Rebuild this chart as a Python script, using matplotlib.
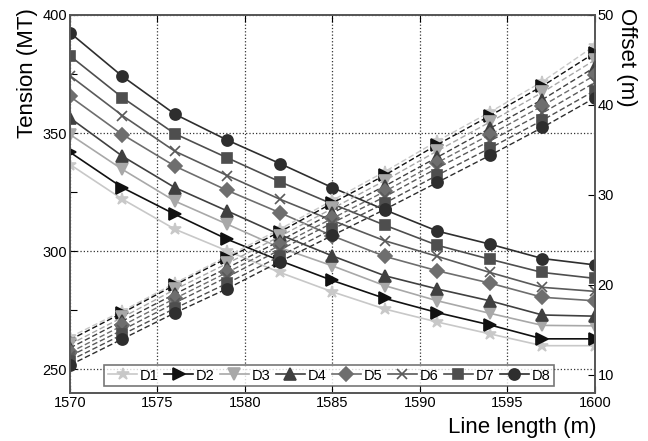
import numpy as np
import matplotlib.pyplot as plt

plt.rcParams['font.family'] = ['Liberation Sans', 'DejaVu Sans']

# line length (m)
length = [1570, 1573, 1576, 1579, 1582, 1585, 1588, 1591, 1594, 1597, 1600]
names = ['D1', 'D2', 'D3', 'D4', 'D5', 'D6', 'D7', 'D8']

# tension (MT), solid lines
tension_d1 = [336.7, 322.0, 309.3, 300.1, 291.0, 282.8, 275.5, 270.0, 265.0, 260.0, 260.0]
tension_d2 = [341.9, 326.9, 315.6, 305.0, 296.0, 287.6, 280.0, 274.0, 268.8, 262.9, 262.9]
tension_d3 = [349.4, 334.6, 321.2, 311.4, 301.5, 293.8, 285.4, 279.0, 273.7, 268.6, 268.4]
tension_d4 = [356.4, 340.2, 326.9, 317.0, 307.0, 298.0, 289.6, 284.0, 279.0, 273.0, 272.5]
tension_d5 = [365.5, 349.4, 336.0, 325.7, 316.3, 306.5, 297.8, 291.7, 286.5, 280.5, 279.0]
tension_d6 = [374.3, 357.4, 342.3, 332.0, 322.0, 313.0, 304.4, 297.8, 291.0, 284.7, 283.0]
tension_d7 = [382.7, 365.0, 349.7, 339.5, 329.4, 320.0, 311.0, 302.5, 296.6, 291.0, 288.5]
tension_d8 = [392.5, 374.0, 358.0, 347.0, 337.1, 326.9, 317.5, 308.5, 303.0, 296.9, 294.2]

# offset (m), dashed lines
offset_d1 = [14.2, 17.1, 20.2, 23.2, 26.2, 29.4, 32.6, 36.0, 39.2, 42.6, 46.6]
offset_d2 = [13.9, 16.9, 20.0, 23.0, 25.9, 29.1, 32.2, 35.6, 38.8, 42.1, 45.8]
offset_d3 = [13.4, 16.4, 19.5, 22.4, 25.4, 28.5, 31.6, 34.9, 38.1, 41.4, 45.0]
offset_d4 = [13.0, 16.0, 19.0, 21.9, 24.9, 28.0, 31.0, 34.2, 37.4, 40.6, 44.2]
offset_d5 = [12.5, 15.5, 18.5, 21.4, 24.4, 27.4, 30.4, 33.6, 36.7, 39.9, 43.3]
offset_d6 = [12.1, 15.0, 18.0, 20.9, 23.9, 26.9, 29.8, 33.0, 36.0, 39.1, 42.5]
offset_d7 = [11.6, 14.5, 17.4, 20.2, 23.2, 26.2, 29.1, 32.2, 35.2, 38.3, 41.6]
offset_d8 = [11.1, 14.0, 16.9, 19.6, 22.6, 25.5, 28.4, 31.4, 34.4, 37.5, 40.8]

tensions = [tension_d1, tension_d2, tension_d3, tension_d4,
            tension_d5, tension_d6, tension_d7, tension_d8]
offsets = [offset_d1, offset_d2, offset_d3, offset_d4,
           offset_d5, offset_d6, offset_d7, offset_d8]

colors = ['#c8c8c8', '#111111', '#a8a8a8', '#404040',
          '#6e6e6e', '#5a5a5a', '#4e4e4e', '#2e2e2e']
markers = ['*', '>', 'v', '^', 'D', 'x', 's', 'o']
msizes = [9, 9, 9, 8, 7, 7, 7, 8]

fig = plt.figure(figsize=(6.48, 4.41), dpi=100)
ax = fig.add_axes([0.108, 0.109, 0.810, 0.857])
ax2 = ax.twinx()

handles = []
for i in range(8):
    h, = ax.plot(length, tensions[i], color=colors[i], marker=markers[i],
                 ms=msizes[i], lw=1.2, mew=1.2, label=names[i])
    handles.append(h)
    ax2.plot(length, offsets[i], color=colors[i], marker=markers[i],
             ms=msizes[i], lw=1.0, mew=1.2, ls=(0, (4, 2)))

ax.set_xlim(1570, 1600)
ax.set_ylim(240, 400)
ax2.set_ylim(8, 50)
ax.set_xticks(np.arange(1570, 1601, 5))
ax.set_yticks([250, 300, 350, 400])
ax.set_yticks([275, 325, 375], minor=True)
ax2.set_yticks([10, 20, 30, 40, 50])

ax.grid(True, ls=':', color='#333333', lw=0.9)
for a in (ax, ax2):
    a.tick_params(direction='in', labelsize=10.5, length=5, width=0.8, pad=2)
    a.tick_params(which='minor', direction='in', length=5, width=0.8)
    for s in a.spines.values():
        s.set_color('#555555')
        s.set_linewidth(1.2)
ax.tick_params(top=True)

# axis titles sit at the upper / right ends like in the original
fig.text(28 / 648, 1 - 8 / 441, 'Tension (MT)', fontsize=16, rotation=90,
         ha='center', va='top')
fig.text(627 / 648, 1 - 8 / 441, 'Offset (m)', fontsize=16, rotation=-90,
         ha='center', va='top')
fig.text(597 / 648, 1 - 428 / 441, 'Line length (m)', fontsize=16,
         ha='right', va='center')

ax.legend(handles=handles, ncol=8, loc='lower left', bbox_to_anchor=(0.06, 0.01),
          fontsize=10.5, frameon=True, fancybox=False, edgecolor='#555555',
          handlelength=2.0, handletextpad=0.2, columnspacing=0.35,
          borderpad=0.25, borderaxespad=0.2)
ax.get_legend().get_frame().set_linewidth(1.2)

fig.savefig('out.png', dpi=100)
